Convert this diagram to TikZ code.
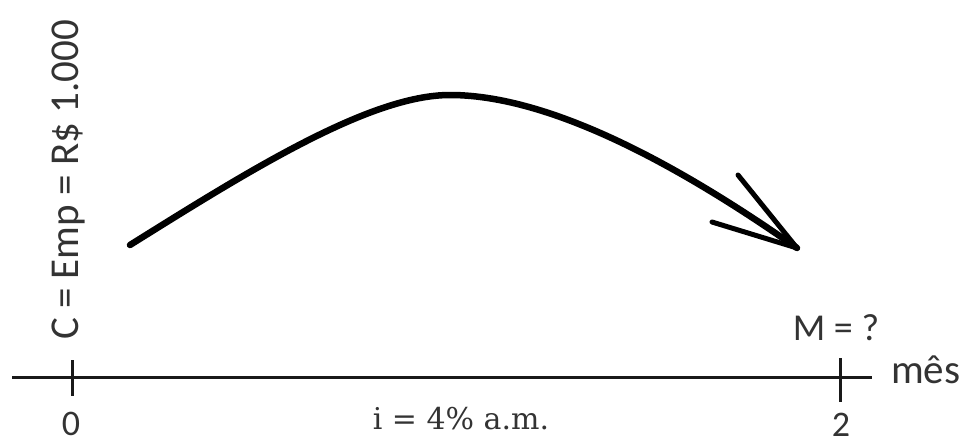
\documentclass[tikz,border=0pt]{standalone}
\usepackage{fontspec}
\setmainfont{Carlito}
\newfontfamily\slabfont{DejaVu Serif}
\usetikzlibrary{positioning,calc}

\begin{document}
\begin{tikzpicture}[x=1pt, y=-1pt,
    rotulo/.style={text=black!80, inner sep=0pt, font=\fontsize{38}{40}\selectfont},
    eixo/.style={line width=3pt, black!90},
    marca/.style={line width=3pt, black!90},
    fluxo/.style={line width=6.5pt, line cap=round, black},
    farpa/.style={line width=5pt, line cap=round, black}
  ]
    \useasboundingbox (0,0) rectangle (965,444);
    % eixo do tempo
    \coordinate (ini) at (12,377);
    \coordinate (fim) at (872,377);
    \node[rotulo, font=\fontsize{41}{44}\selectfont, anchor=west] (mes) at (891,370) {mês};
    \draw[eixo] (ini) -- (fim);
    \coordinate (t0a) at (72,360);  \coordinate (t0b) at (72,396);
    \coordinate (t2a) at (840,358); \coordinate (t2b) at (840,402);
    \draw[marca] (t0a) -- (t0b);
    \draw[marca] (t2a) -- (t2b);
    \node[rotulo, font=\fontsize{36}{38}\selectfont] (zero) at (71,424) {0};
    \node[rotulo, font=\fontsize{36}{38}\selectfont] (dois) at (841,425) {2};
    \node[rotulo] (montante) at (836,328) {M = ?};
    \node[rotulo, rotate=90, font=\fontsize{41}{44}\selectfont] (capital) at (68,180) {C = Emp = R\$ 1.000};
    \node[rotulo, font=\slabfont\fontsize{30}{33}\selectfont] (juros) at (461,419) {i = 4\% a.m.};
    % seta do emprestimo
    \coordinate (saida) at (130,245);
    \coordinate (topo) at (450,95);
    \coordinate (ponta) at (797,248);
    \draw[fluxo] (saida) .. controls (250,170) and (370,95) .. (topo)
      .. controls (560,95) and (700,180) .. (ponta);
    \draw[farpa] (ponta) -- ($(ponta)+(-59,-73)$);
    \draw[farpa] (ponta) -- ($(ponta)+(-85,-26)$);
\end{tikzpicture}
\end{document}
